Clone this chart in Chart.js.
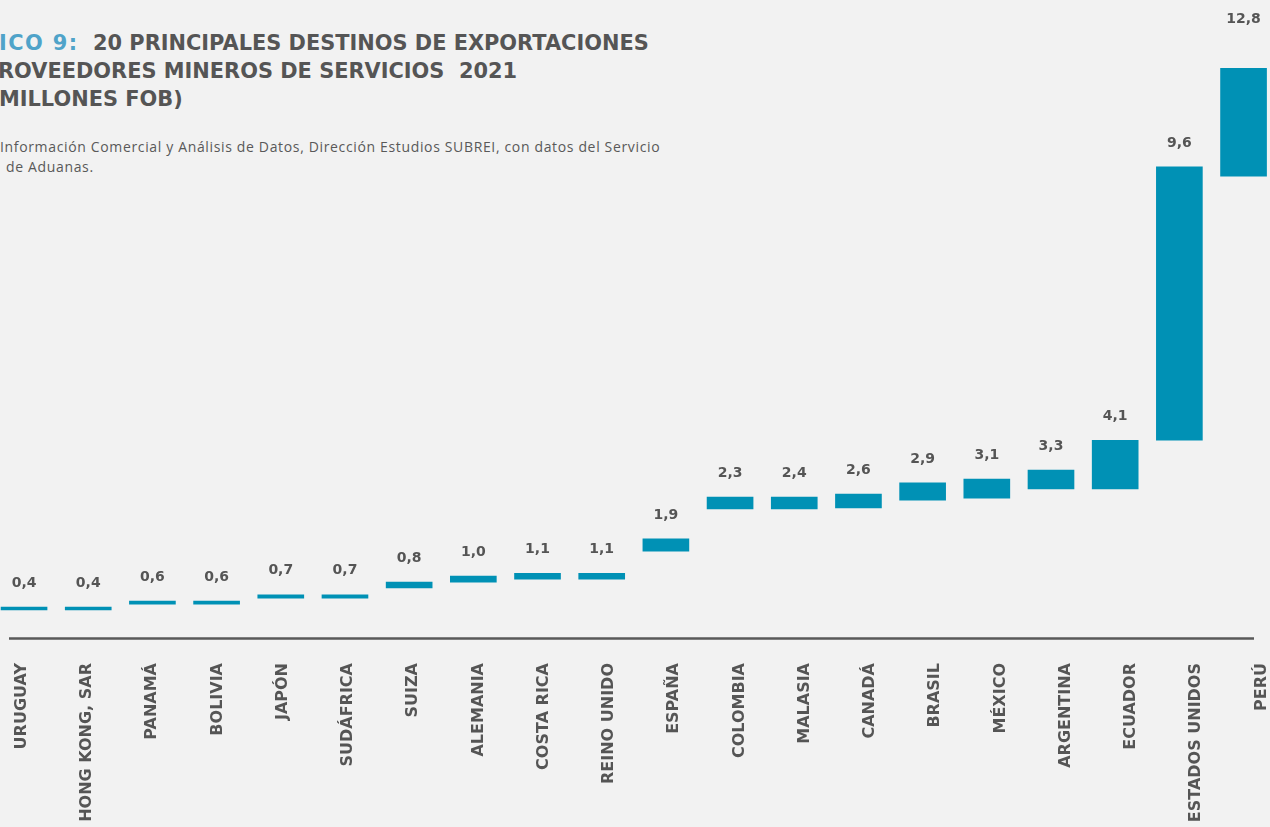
<!DOCTYPE html>
<html>
<head>
<meta charset="utf-8">
<script src="https://cdn.jsdelivr.net/npm/chart.js@4"></script>
<style>
  html, body { margin: 0; padding: 0; background: #f2f2f2; }
  body { width: 1270px; height: 827px; overflow: hidden; position: relative; }
  .t { position: absolute; white-space: pre; font-family: "DejaVu Sans"; font-weight: bold;
       font-size: 20.9px; line-height: 28px; color: #555; }
  .t .hl { color: #4fa3c9; letter-spacing: 1.4px; }
  .src { position: absolute; white-space: pre; font-family: "Open Sans";
         font-size: 14px; line-height: 20px; color: #595959; letter-spacing: 0.65px; }
  #wrap { position: absolute; left: -11px; top: 0; width: 1305px; height: 827px; }
</style>
</head>
<body>
<div class="t" style="top:29px;left:-1px"><span class="hl">ICO 9:</span>  20 PRINCIPALES DESTINOS DE EXPORTACIONES</div>
<div class="t" style="top:57px;left:-2px">ROVEEDORES MINEROS DE SERVICIOS  2021</div>
<div class="t" style="top:85px;left:-1px">MILLONES FOB)</div>
<div class="src" style="top:137px;left:0px">Información Comercial y Análisis de Datos, Dirección Estudios SUBREI, con datos del Servicio</div>
<div class="src" style="top:157px;left:6px">de Aduanas.</div>
<div id="wrap"><canvas id="chart"></canvas></div>
<script>
const countries = ["URUGUAY", "HONG KONG, SAR", "PANAMÁ", "BOLIVIA", "JAPÓN", "SUDÁFRICA", "SUIZA",
  "ALEMANIA", "COSTA RICA", "REINO UNIDO", "ESPAÑA", "COLOMBIA", "MALASIA", "CANADÁ", "BRASIL",
  "MÉXICO", "ARGENTINA", "ECUADOR", "ESTADOS UNIDOS", "PERÚ"];

// valores rotulados (US$ millones FOB)
const values = [0.4, 0.4, 0.6, 0.6, 0.7, 0.7, 0.8, 1.0, 1.1, 1.1, 1.9, 2.3, 2.4, 2.6, 2.9, 3.1, 3.3, 4.1, 9.6, 12.8];

// extremos de las barras flotantes
const barBottom = [0.57, 0.57, 0.69, 0.69, 0.81, 0.81, 1.02, 1.14, 1.20, 1.20, 1.77, 2.63, 2.63, 2.65, 2.81, 2.85, 3.04, 3.04, 4.03, 9.41];
const barTop = [0.63, 0.63, 0.75, 0.75, 0.88, 0.88, 1.14, 1.26, 1.32, 1.32, 2.02, 2.87, 2.87, 2.93, 3.16, 3.24, 3.42, 4.03, 9.60, 11.61];

const labelPlugin = {
  id: "valueLabels",
  beforeDatasetsDraw(chart) {
    const { ctx, chartArea } = chart;
    ctx.save();
    ctx.strokeStyle = "#595959";
    ctx.lineWidth = 2.5;
    ctx.beginPath();
    ctx.moveTo(chartArea.left + 20, chartArea.bottom + 0.5);
    ctx.lineTo(chartArea.right - 40, chartArea.bottom + 0.5);
    ctx.stroke();
    ctx.restore();
  },
  afterDatasetsDraw(chart) {
    const ctx = chart.ctx;
    const meta = chart.getDatasetMeta(0);
    ctx.save();
    ctx.font = 'bold 14px "DejaVu Sans"';
    ctx.fillStyle = "#555";
    ctx.textAlign = "center";
    ctx.textBaseline = "middle";
    meta.data.forEach((bar, i) => {
      const top = Math.min(bar.y, bar.base);
      const lift = i === values.length - 1 ? 49 : 24;
      ctx.fillText(values[i].toFixed(1).replace(".", ","), bar.x, top - lift);
    });
    ctx.restore();
  }
};

new Chart(document.getElementById("chart"), {
  type: "bar",
  data: {
    labels: countries,
    datasets: [
      {
        data: countries.map((c, i) => ({ x: i, y: [barBottom[i], barTop[i]] })),
        xAxisID: "xb",
        yAxisID: "y",
        backgroundColor: "#0091b5",
        barThickness: 46,
        borderSkipped: false,
      },
    ],
  },
  options: {
    responsive: true,
    maintainAspectRatio: false,
    animation: false,
    layout: { padding: 0 },
    plugins: {
      legend: { display: false },
      tooltip: { enabled: false },
    },
    scales: {
      x: {
        type: "category",
        labels: countries,
        offset: true,
        grid: { display: false, drawTicks: true, tickLength: 13, offset: true },
        border: { display: false },
        ticks: {
          autoSkip: false,
          maxRotation: 90,
          minRotation: 90,
          padding: 12,
          color: "#555",
          font: { family: "DejaVu Sans", size: 16, weight: "bold" },
        },
        afterFit: (scale) => { scale.height = 189; },
      },
      xb: {
        type: "linear",
        display: false,
        offset: false,
        grid: { offset: false },
        min: -0.546,
        max: 19.786,
      },
      y: {
        display: false,
        min: 0,
        max: 13,
      },
    },
  },
  plugins: [labelPlugin],
});
</script>
</body>
</html>
